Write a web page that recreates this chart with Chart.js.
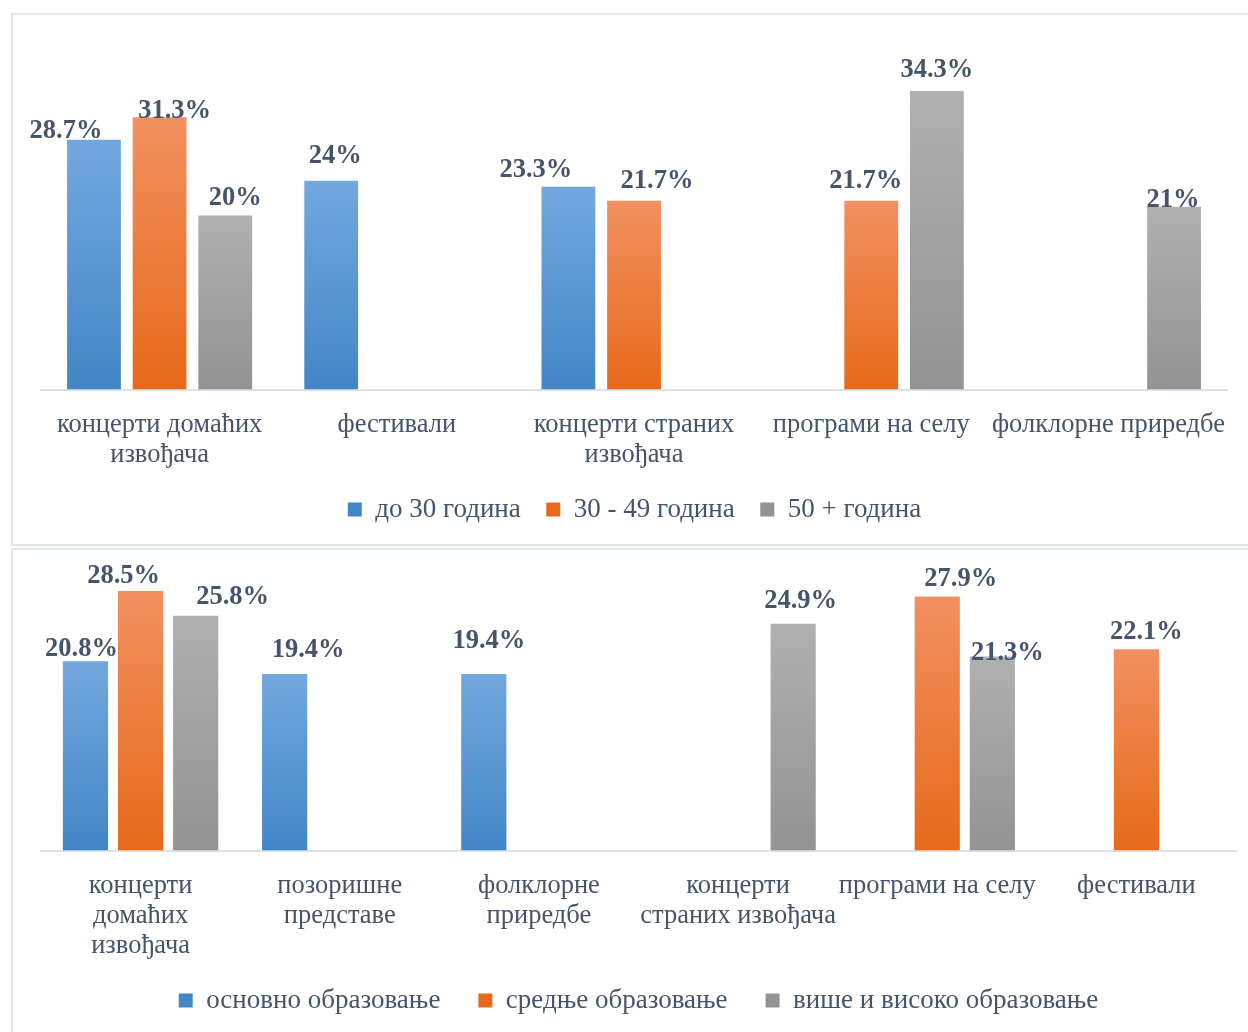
<!DOCTYPE html>
<html><head><meta charset="utf-8">
<script src="https://cdn.jsdelivr.net/npm/chart.js@4.4.1/dist/chart.umd.min.js"></script>
<style>
html,body{margin:0;padding:0;background:#fff;overflow:hidden;width:1248px;height:1032px;position:relative;}
.frame{position:absolute;border:2px solid #E3E6EA;box-sizing:border-box;}
canvas{position:absolute;left:0;}
</style></head><body>
<div class="frame" style="left:11px;top:13px;width:1300px;height:533px"></div>
<div class="frame" style="left:11px;top:548px;width:1300px;height:600px"></div>
<canvas id="c1" width="1248" height="545" style="top:0;width:1248px;height:545px"></canvas>
<canvas id="c2" width="1248" height="484" style="top:548px;width:1248px;height:484px"></canvas>
<script>
// ---- Chart 1: by age ----
const ageCategories = [['концерти домаћих', 'извођача'], 'фестивали', ['концерти страних', 'извођача'], 'програми на селу', 'фолклорне приредбе'];
const ageSeriesNames = ['до 30 година', '30 - 49 година', '50 + година'];
const ageUnder30 = [28.7, 24, 23.3, null, null];
const age30to49 = [31.3, null, 21.7, 21.7, null];
const age50plus = [20, null, null, 34.3, 21];

// ---- Chart 2: by education ----
const eduCategories = [['концерти', 'домаћих', 'извођача'], ['позоришне', 'представе'], ['фолклорне', 'приредбе'], ['концерти', 'страних извођача'], 'програми на селу', 'фестивали'];
const eduSeriesNames = ['основно образовање', 'средње образовање', 'више и високо образовање'];
const eduPrimary = [20.8, 19.4, 19.4, null, null, null];
const eduSecondary = [28.5, null, null, null, 27.9, 22.1];
const eduHigher = [25.8, null, null, 24.9, 21.3, null];

const SERIF = "'Liberation Serif', 'Times New Roman', serif";
const TEXT = '#44546A';
const palettes = [
  {top: '#72A8DE', bottom: '#4386C6', solid: '#5B9BD5'},
  {top: '#F29060', bottom: '#E66A1A', solid: '#ED7D31'},
  {top: '#B0B0B0', bottom: '#939393', solid: '#A5A5A5'}
];

function gradientFill(p) {
  return function (ctx) {
    const chart = ctx.chart;
    if (!chart.chartArea || ctx.raw == null || ctx.type !== 'data') return p.solid;
    const y = chart.scales.y;
    const t = y.getPixelForValue(ctx.raw);
    const b = y.getPixelForValue(0);
    const g = chart.ctx.createLinearGradient(0, t, 0, b);
    g.addColorStop(0, p.top);
    g.addColorStop(1, p.bottom);
    return g;
  };
}

const valueLabels = {
  id: 'valueLabels',
  afterDatasetsDraw(chart, args, opts) {
    const ctx = chart.ctx;
    ctx.save();
    ctx.font = 'bold 26.5px ' + SERIF;
    ctx.fillStyle = TEXT;
    ctx.textAlign = 'center';
    ctx.textBaseline = 'alphabetic';
    chart.data.datasets.forEach((ds, di) => {
      const meta = chart.getDatasetMeta(di);
      meta.data.forEach((bar, i) => {
        const v = ds.data[i];
        if (v == null) return;
        const n = (opts.nudges[di] && opts.nudges[di][i]) || [0, 8];
        ctx.fillText(v + '%', bar.x + n[0], bar.y - n[1]);
      });
    });
    ctx.restore();
  }
};

function makeChart(id, labels, series, names, yMax, pad, axisHeight, legendPadding, legendExtra, nudges) {
  return new Chart(document.getElementById(id), {
    type: 'bar',
    data: {
      labels: labels,
      datasets: series.map((d, i) => ({
        label: names[i],
        data: d,
        backgroundColor: gradientFill(palettes[i]),
        borderWidth: 0,
        categoryPercentage: 0.83,
        barPercentage: 0.82
      }))
    },
    options: {
      responsive: false,
      animation: false,
      devicePixelRatio: 1,
      events: [],
      layout: {padding: pad},
      scales: {
        x: {
          grid: {display: false, drawTicks: false},
          border: {display: true, color: '#DDE2E8', width: 2},
          ticks: {
            color: TEXT,
            font: {family: SERIF, size: 26.5, lineHeight: 30 / 26.5},
            padding: 21,
            autoSkip: false,
            maxRotation: 0,
            minRotation: 0
          },
          afterFit(scale) { scale.height = axisHeight; }
        },
        y: {display: false, min: 0, max: yMax}
      },
      plugins: {
        tooltip: {enabled: false},
        legend: {
          position: 'bottom',
          labels: {
            color: TEXT,
            font: {family: SERIF, size: 27},
            boxWidth: 14,
            boxHeight: 14,
            padding: legendPadding,
            generateLabels(chart) {
              const items = Chart.defaults.plugins.legend.labels.generateLabels(chart);
              items.forEach((it, i) => {
                if (i < items.length - 1) it.text = it.text + legendExtra;
              });
              return items;
            }
          }
        },
        valueLabels: {nudges: nudges}
      }
    },
    plugins: [valueLabels]
  });
}

makeChart('c1', ageCategories, [ageUnder30, age30to49, age50plus], ageSeriesNames, 40,
  {left: 41, right: 20, top: 41.5, bottom: 12}, 81, 25.5, '',
  [
    [[-28, 2], [4, 18], [-32.5, 10], null, null],
    [[15, -1], null, [23, 13], [-5.5, 13], null],
    [[10, 11], null, null, [0, 14], [-1, 0]]
  ]);

makeChart('c2', eduCategories, [eduPrimary, eduSecondary, eduHigher], eduSeriesNames, 30,
  {left: 41, right: 12, top: 29.4, bottom: 8}, 112, 24.5, '  ',
  [
    [[-4, 5], [23.5, 17], [5, 26], null, null, null],
    [[-17, 8], null, null, null, [23.5, 11], [10, 10]],
    [[37, 12], null, null, [7.5, 16], [15, -3], null]
  ]);
</script>
</body></html>
